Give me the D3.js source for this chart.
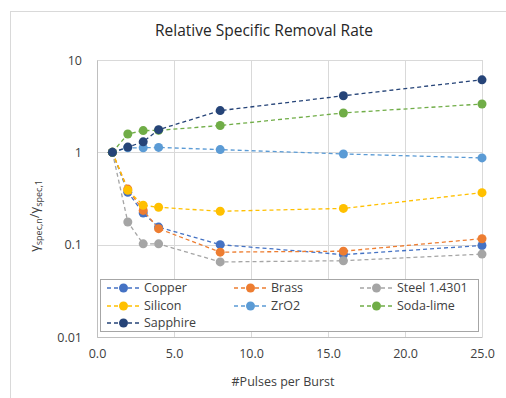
<!DOCTYPE html>
<html>
<head>
<meta charset="utf-8">
<script src="https://cdn.jsdelivr.net/npm/d3@7"></script>
<style>
  html, body { margin: 0; padding: 0; background: #fff; }
  svg { display: block; font-family: "Open Sans", "Liberation Sans", sans-serif; }
</style>
</head>
<body>
<svg id="chart" width="506" height="398"></svg>
<script>
// Pulses per burst (x values shared by every series)
const pulses = [1, 2, 3, 4, 8, 16, 25];

// Relative specific removal rate per material
const copper   = [1, 0.37, 0.22, 0.155, 0.100, 0.078, 0.098];
const brass    = [1, 0.40, 0.235, 0.149, 0.083, 0.085, 0.116];
const steel    = [1, 0.176, 0.102, 0.102, 0.065, 0.067, 0.079];
const silicon  = [1, 0.388, 0.267, 0.254, 0.230, 0.247, 0.366];
const zro2     = [1, 1.12, 1.12, 1.13, 1.07, 0.96, 0.87];
const sodaLime = [1, 1.58, 1.72, 1.73, 1.95, 2.67, 3.34];
const sapphire = [1, 1.14, 1.30, 1.76, 2.83, 4.10, 6.10];

const seriesNames  = ["Copper", "Brass", "Steel 1.4301", "Silicon", "ZrO2", "Soda-lime", "Sapphire"];
const seriesValues = [copper, brass, steel, silicon, zro2, sodaLime, sapphire];
const seriesColors = ["#4472C4", "#ED7D31", "#A5A5A5", "#FFC000", "#5B9BD5", "#70AD47", "#264478"];

const xTicks = [0, 5, 10, 15, 20, 25];
const yTicks = [0.01, 0.1, 1, 10];

const svg = d3.select("#chart");

// chart-area frame
svg.append("rect")
  .attr("x", 10.5).attr("y", 11.5)
  .attr("width", 520).attr("height", 420)
  .attr("fill", "#fff").attr("stroke", "#d9d9d9");

const plot = { left: 97, right: 482, top: 60, bottom: 337 };

const x = d3.scaleLinear().domain([0, 25]).range([plot.left, plot.right]);
const y = d3.scaleLog().domain([0.01, 10]).range([plot.bottom, plot.top]);

// gridlines
const grid = svg.append("g").attr("stroke", "#d9d9d9").attr("stroke-width", 1);
xTicks.forEach(t => {
  grid.append("line")
    .attr("x1", Math.round(x(t)) + 0.5).attr("x2", Math.round(x(t)) + 0.5)
    .attr("y1", plot.top).attr("y2", plot.bottom);
});
yTicks.forEach(t => {
  grid.append("line")
    .attr("x1", plot.left).attr("x2", plot.right)
    .attr("y1", Math.round(y(t)) + 0.5).attr("y2", Math.round(y(t)) + 0.5);
});

// axes
const xAxis = svg.append("g")
  .attr("transform", `translate(0,${plot.bottom})`)
  .call(d3.axisBottom(x).tickValues(xTicks).tickFormat(d3.format(".1f")).tickSize(0).tickPadding(12));
const yAxis = svg.append("g")
  .attr("transform", `translate(${plot.left},0)`)
  .call(d3.axisLeft(y).tickValues(yTicks).tickFormat(d => d >= 1 ? d3.format("d")(d) : String(d)).tickSize(0).tickPadding(15));
[xAxis, yAxis].forEach(a => {
  a.select(".domain").attr("stroke", "#bfbfbf");
  a.selectAll("text").attr("fill", "#404040").attr("font-size", 12.5)
    .attr("font-family", "\"Open Sans\", sans-serif");
});

// title
svg.append("text")
  .attr("x", 264).attr("y", 36)
  .attr("text-anchor", "middle")
  .attr("font-size", 15.5).attr("fill", "#262626")
  .text("Relative Specific Removal Rate");

// axis titles
svg.append("text")
  .attr("x", 283).attr("y", 386)
  .attr("text-anchor", "middle")
  .attr("font-size", 12.5).attr("fill", "#404040")
  .text("#Pulses per Burst");

const yt = svg.append("text")
  .attr("transform", "translate(39,216) rotate(-90)")
  .attr("text-anchor", "middle")
  .attr("font-size", 13).attr("fill", "#404040");
yt.append("tspan").text("γ");
yt.append("tspan").attr("font-size", 9).attr("dy", 3).text("spec,n");
yt.append("tspan").attr("dy", -3).text("/γ");
yt.append("tspan").attr("font-size", 9).attr("dy", 3).text("spec,1");

// series
const line = d3.line().x((d, i) => x(pulses[i])).y(d => y(d));
seriesValues.forEach((vals, k) => {
  const g = svg.append("g");
  g.append("path")
    .datum(vals)
    .attr("d", line)
    .attr("fill", "none")
    .attr("stroke", seriesColors[k])
    .attr("stroke-width", 1.3)
    .attr("stroke-dasharray", "4,3");
  g.selectAll("circle")
    .data(vals)
    .join("circle")
    .attr("cx", (d, i) => x(pulses[i]))
    .attr("cy", d => y(d))
    .attr("r", 4.5)
    .attr("fill", seriesColors[k]);
});

// legend
const legend = svg.append("g");
legend.append("rect")
  .attr("x", 100.5).attr("y", 279.5)
  .attr("width", 378).attr("height", 52)
  .attr("fill", "#fff").attr("stroke", "#a6a6a6");
const colX = [107, 234, 360];
const rowY = [288, 306, 323];
seriesNames.forEach((name, k) => {
  const cx = colX[k % 3], cy = rowY[Math.floor(k / 3)];
  legend.append("line")
    .attr("x1", cx).attr("x2", cx + 33)
    .attr("y1", cy).attr("y2", cy)
    .attr("stroke", seriesColors[k]).attr("stroke-width", 1.3)
    .attr("stroke-dasharray", "4,3");
  legend.append("circle")
    .attr("cx", cx + 16.5).attr("cy", cy).attr("r", 4.5)
    .attr("fill", seriesColors[k]);
  legend.append("text")
    .attr("x", cx + 37).attr("y", cy).attr("dy", "0.35em")
    .attr("font-size", 12.5).attr("fill", "#404040")
    .text(name);
});
</script>
</body>
</html>
